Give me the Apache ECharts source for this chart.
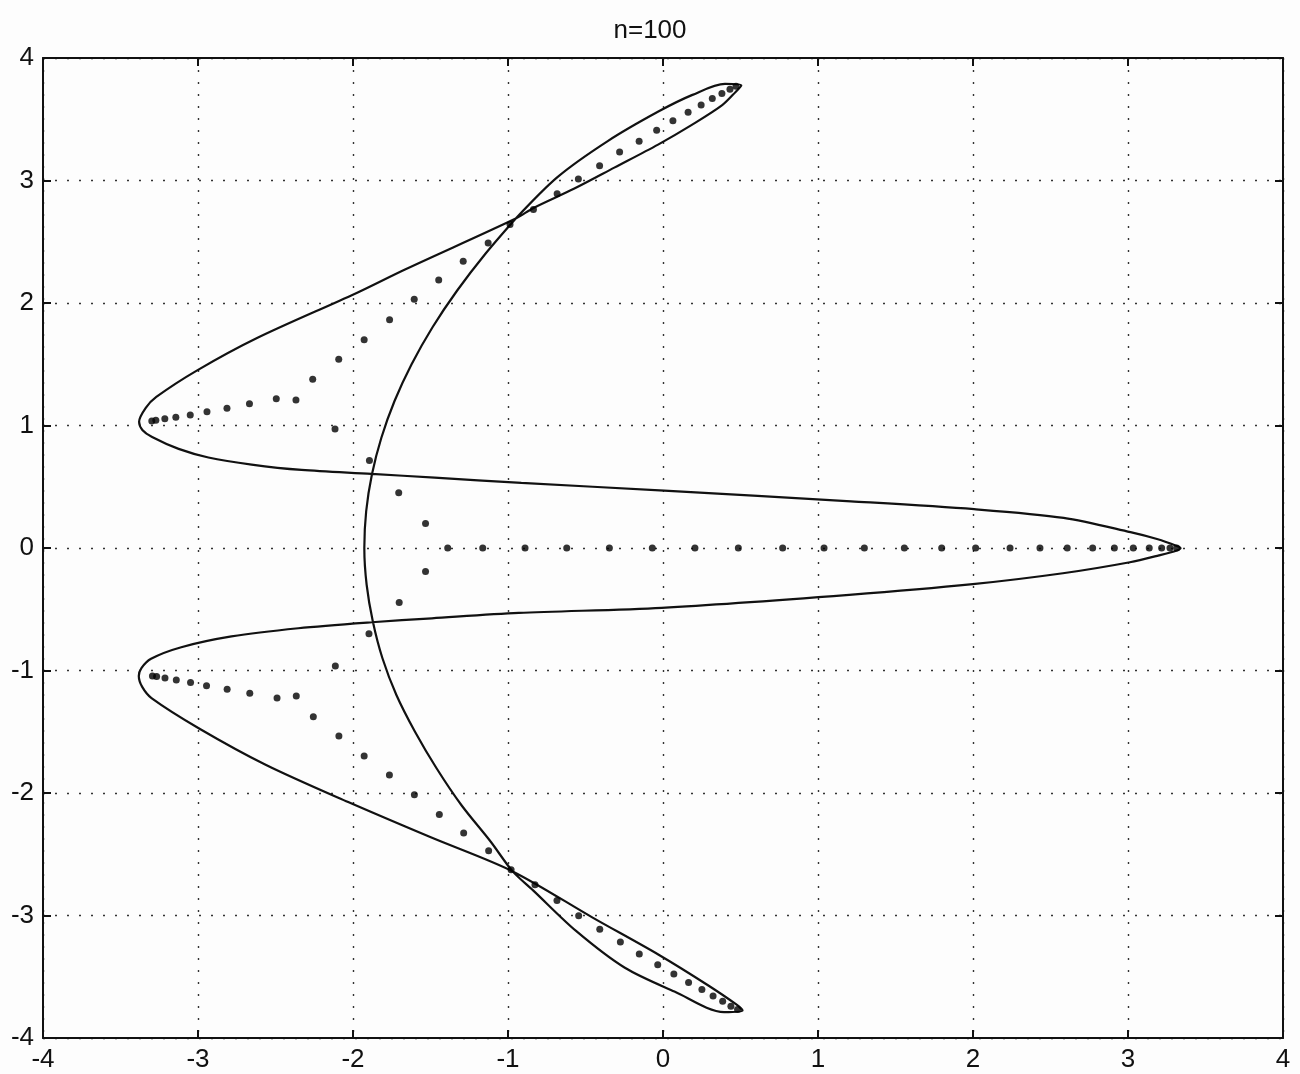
<!DOCTYPE html>
<html>
<head>
<meta charset="utf-8">
<script src="https://cdn.jsdelivr.net/npm/echarts@6/dist/echarts.min.js"></script>
<style>
html,body{margin:0;padding:0;background:#fdfdfd;}
#chart{width:1300px;height:1074px;}
</style>
</head>
<body>
<div id="chart"></div>
<script>
// Axis ticks
const xTicks = [-4, -3, -2, -1, 0, 1, 2, 3, 4];
const yTicks = [-4, -3, -2, -1, 0, 1, 2, 3, 4];
const titleText = 'n=100';

// Closed boundary curve (x, y), traced in order
const curveX = [-0.950, -0.681, -0.354, -0.027, 0.190, 0.400, 0.505, 0.470, 0.382, 0.186, -0.032, -0.314, -0.575, -0.835, -0.950,
  -1.661, -1.987, -2.616, -3.008, -3.269, -3.337, -3.380, -3.359, -3.296, -3.125, -2.933, -2.654, -2.332, -1.881, -1.473, -0.914, 0.008, 1.213, 2.007, 2.585, 3.016, 3.187, 3.315, 3.339,
  3.315, 3.200, 3.012, 2.580, 1.998, 1.201, -0.008, -0.931, -1.491, -1.879, -2.353, -2.784, -3.108, -3.303, -3.365, -3.382,
  -3.360, -3.300, -2.990, -2.564, -2.031, -1.498, -0.970,
  -0.454, -0.028, 0.290, 0.475, 0.513, 0.394, 0.074, -0.246, -0.563, -0.838, -0.970,
  -1.110, -1.300, -1.460, -1.600, -1.720, -1.810, -1.872, -1.912, -1.927, -1.915, -1.878, -1.817, -1.732, -1.622, -1.488, -1.329, -1.147, -0.950];
const curveY = [2.690, 3.028, 3.324, 3.565, 3.699, 3.788, 3.775, 3.725, 3.615, 3.454, 3.293, 3.105, 2.932, 2.776, 2.690,
  2.276, 2.076, 1.716, 1.448, 1.233, 1.144, 1.030, 0.964, 0.906, 0.809, 0.739, 0.681, 0.637, 0.605, 0.574, 0.532, 0.468, 0.381, 0.317, 0.246, 0.129, 0.073, 0.017, 0.000,
  -0.020, -0.060, -0.116, -0.206, -0.295, -0.382, -0.488, -0.530, -0.574, -0.606, -0.655, -0.722, -0.810, -0.904, -0.980, -1.045,
  -1.134, -1.225, -1.475, -1.769, -2.074, -2.362, -2.640,
  -3.017, -3.320, -3.569, -3.728, -3.775, -3.788, -3.621, -3.427, -3.124, -2.795, -2.640,
  -2.400, -2.100, -1.800, -1.500, -1.200, -0.900, -0.600, -0.300, 0.000, 0.300, 0.600, 0.900, 1.200, 1.500, 1.800, 2.100, 2.400, 2.690];

// Eigenvalue dots: upper branch
const upperX = [-3.298, -3.272, -3.214, -3.143, -3.050, -2.942, -2.813, -2.668, -2.495, -2.368, -2.260, -2.092, -1.928, -1.764, -1.605, -1.447, -1.289, -1.128, -0.987, -0.836, -0.683, -0.546, -0.409, -0.280, -0.154, -0.041, 0.064, 0.162, 0.246, 0.318, 0.380, 0.432, 0.471,
  -2.116, -1.894, -1.705, -1.532];
const upperY = [1.037, 1.042, 1.055, 1.068, 1.086, 1.112, 1.140, 1.177, 1.219, 1.209, 1.377, 1.541, 1.700, 1.864, 2.031, 2.187, 2.340, 2.489, 2.641, 2.763, 2.892, 3.013, 3.120, 3.233, 3.321, 3.410, 3.488, 3.557, 3.617, 3.670, 3.710, 3.745, 3.769,
  0.971, 0.714, 0.451, 0.199];
// Eigenvalue dots: lower branch
const lowerX = [-3.294, -3.267, -3.213, -3.140, -3.048, -2.945, -2.812, -2.666, -2.490, -2.366, -2.256, -2.091, -1.928, -1.765, -1.604, -1.443, -1.286, -1.125, -0.980, -0.826, -0.684, -0.544, -0.408, -0.275, -0.153, -0.034, 0.070, 0.165, 0.251, 0.323, 0.385, 0.438, 0.481,
  -2.114, -1.897, -1.702, -1.532];
const lowerY = [-1.045, -1.048, -1.062, -1.077, -1.097, -1.125, -1.154, -1.185, -1.225, -1.208, -1.377, -1.534, -1.697, -1.854, -2.015, -2.176, -2.327, -2.471, -2.626, -2.748, -2.878, -3.002, -3.112, -3.217, -3.314, -3.402, -3.477, -3.546, -3.604, -3.657, -3.701, -3.740, -3.767,
  -0.964, -0.701, -0.444, -0.191];
// Eigenvalue dots on the real axis
const realX = [-1.389, -1.163, -0.890, -0.621, -0.346, -0.069, 0.206, 0.486, 0.772, 1.039, 1.299, 1.557, 1.798, 2.017, 2.239, 2.432, 2.608, 2.772, 2.912, 3.034, 3.137, 3.217, 3.271, 3.314];

const curveData = curveX.map((x, i) => [x, curveY[i]]);
const dotData = []
  .concat(upperX.map((x, i) => [x, upperY[i]]))
  .concat(lowerX.map((x, i) => [x, lowerY[i]]))
  .concat(realX.map(x => [x, 0]));

const FONT = '"Liberation Sans", Arial, Helvetica, sans-serif';
const ink = '#111111';

function axisBase(pos, showLabels) {
  const ticks = (pos === 'bottom' || pos === 'top') ? xTicks : yTicks;
  return {
    type: 'value',
    position: pos,
    min: ticks[0],
    max: ticks[ticks.length - 1],
    interval: 1,
    axisLine: { show: true, onZero: false, lineStyle: { color: ink, width: 2 } },
    axisTick: { show: true, inside: true, length: 8, lineStyle: { color: ink, width: 2 } },
    axisLabel: {
      show: showLabels, color: ink, fontSize: 26, fontFamily: FONT, margin: 9,
      formatter: v => String(v)
    },
    splitLine: {
      show: showLabels,
      lineStyle: { color: '#333', width: 1.4, type: [2, 10] }
    }
  };
}

const chart = echarts.init(document.getElementById('chart'), null, { renderer: 'canvas' });
chart.setOption({
  backgroundColor: '#fdfdfd',
  animation: false,
  title: {
    text: titleText,
    left: 'center',
    top: 13,
    textStyle: { color: ink, fontSize: 26, fontWeight: 'normal', fontFamily: FONT }
  },
  grid: { left: 43, right: 17, top: 58, bottom: 36, containLabel: false },
  xAxis: [axisBase('bottom', true), axisBase('top', false)],
  yAxis: [axisBase('left', true), axisBase('right', false)],
  series: [
    {
      type: 'line',
      data: curveData,
      xAxisIndex: 0, yAxisIndex: 0,
      showSymbol: false,
      smooth: 0.3,
      lineStyle: { color: ink, width: 2.2 },
      z: 3
    },
    {
      type: 'scatter',
      data: dotData,
      xAxisIndex: 0, yAxisIndex: 0,
      symbol: 'circle',
      symbolSize: 7,
      itemStyle: { color: '#000' },
      z: 4
    }
  ]
});
</script>
</body>
</html>
